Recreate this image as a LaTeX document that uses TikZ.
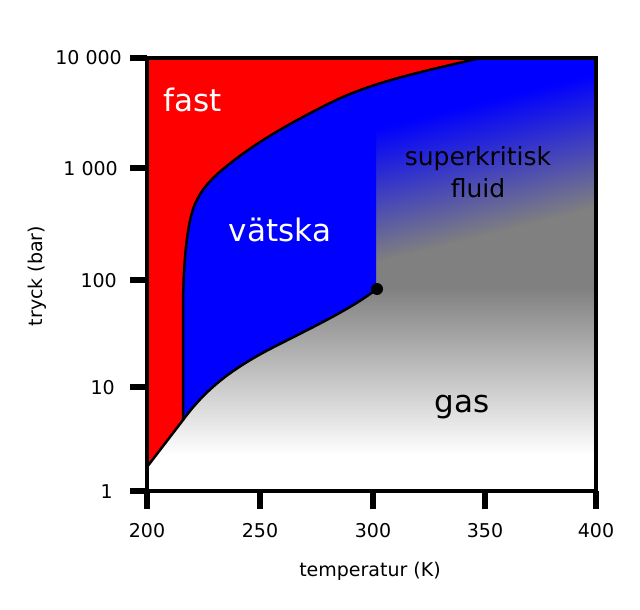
\documentclass[tikz,border=0pt]{standalone}
\usepackage{fontspec}
\setmainfont{DejaVu Sans}
\begin{document}
\begin{tikzpicture}[x=1pt,y=-1pt,
  curve/.style={line width=2.5pt, line join=round, line cap=round},
  tickmark/.style={line width=5.5pt},
  lbl/.style={font=\fontsize{19}{22}\selectfont, inner sep=0pt},
  big/.style={font=\fontsize{31}{36}\selectfont, inner sep=0pt},
  mid/.style={font=\fontsize{25}{30}\selectfont, inner sep=0pt},
]
\useasboundingbox (0,0) rectangle (640,610);
\fill[white] (0,0) rectangle (640,610);
% gas region (vertical gradient)
\fill[gray] (147,58) rectangle (596,287.5);
\shade[top color=gray, bottom color=white] (147,287) rectangle (596,455);
% supercritical region (diagonal gradient)
\begin{scope}
  \clip (375,58) rectangle (596,289);
  \begin{scope}[transform canvas={rotate around={14:(485.5,168)}}]
    \fill[blue] (200,-250) rectangle (780,103.5);
    \shade[top color=blue, bottom color=gray] (200,103) rectangle (780,233);
    \fill[gray] (200,232.5) rectangle (780,540);
  \end{scope}
\end{scope}
% liquid
\begin{scope}
  \clip (0,0) rectangle (376,610);
  \fill[blue] (183,420) -- (183,310)
    .. controls (183,265) and (187,222) .. (195,204)
    .. controls (201,190) and (210.5,179.6) .. (222,170)
    .. controls (254,143) and (292,122) .. (330,103)
    .. controls (374.7,80.6) and (431.4,69.7) .. (480,58)
    -- (480,300) -- (377,289) -- (370,294)
    .. controls (345,312) and (305,331) .. (270,349)
    .. controls (230,370) and (205,390) .. (183,420)
    -- cycle;
\end{scope}
% solid
\fill[red] (147,467) -- (183,420) -- (183,310)
  .. controls (183,265) and (187,222) .. (195,204)
  .. controls (201,190) and (210.5,179.6) .. (222,170)
  .. controls (254,143) and (292,122) .. (330,103)
  .. controls (374.7,80.6) and (431.4,69.7) .. (480,58)
  -- (147,58) -- cycle;
% phase boundaries
\draw[curve] (147,467) -- (183,420);
\draw[curve] (183,420) -- (183,310)
  .. controls (183,265) and (187,222) .. (195,204)
  .. controls (201,190) and (210.5,179.6) .. (222,170)
  .. controls (254,143) and (292,122) .. (330,103)
  .. controls (374.7,80.6) and (431.4,69.7) .. (480,58);
\draw[curve] (183,420) .. controls (205,390) and (230,370) .. (270,349)
  .. controls (305,331) and (345,312) .. (370,294) -- (377,289);
\fill (377,289) circle (6);
% frame and ticks
\draw[line width=4pt] (147,58) rectangle (596,491);
\foreach \yy in {58,168,280,387,491} \draw[tickmark] (130,\yy) -- (147,\yy);
\foreach \xx in {147,260,373,485,596} \draw[tickmark] (\xx,491) -- (\xx,509);
% tick labels
\node[lbl, anchor=base east] (y4) at (122,65) {10 000};
\node[lbl, anchor=base east] (y3) at (118,175) {1 000};
\node[lbl, anchor=base east] (y2) at (117,287) {100};
\node[lbl, anchor=base east] (y1) at (115,394) {10};
\node[lbl, anchor=base east] (y0) at (113,498) {1};
\node[lbl, anchor=base] (x0) at (147,537) {200};
\node[lbl, anchor=base] (x1) at (260,537) {250};
\node[lbl, anchor=base] (x2) at (373,537) {300};
\node[lbl, anchor=base] (x3) at (485,537) {350};
\node[lbl, anchor=base] (x4) at (596,537) {400};
\node[lbl, anchor=base] (xt) at (370,576) {temperatur (K)};
\node[lbl, rotate=90] (yt) at (37,276) {tryck (bar)};
% region labels
\node[big, text=white, anchor=base] (fast) at (193,111) {fast};
\node[big, text=white, anchor=base] (liq) at (280,241) {vätska};
\node[mid, anchor=base] (sc1) at (478,165) {superkritisk};
\node[mid, anchor=base] (sc2) at (478,197) {fluid};
\node[big, anchor=base] (gas) at (462,412) {gas};
\end{tikzpicture}
\end{document}
